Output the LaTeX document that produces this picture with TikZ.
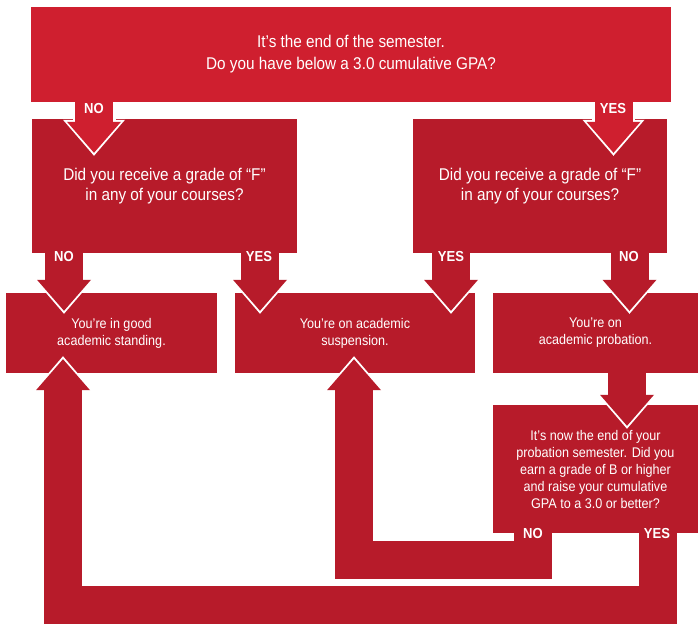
\documentclass[tikz,border=0pt]{standalone}
\usepackage{fontspec}
\setmainfont{Liberation Sans}[FakeStretch=0.9]
\usetikzlibrary{arrows.meta}
\definecolor{topred}{HTML}{CF1F2F}
\definecolor{boxred}{HTML}{B71B2A}

\begin{document}
\begin{tikzpicture}[
        x=1pt, y=-1pt,
        box/.style={fill=boxred, inner sep=0pt, align=center, text=white, font=\fontsize{14}{17}\selectfont},
        question/.style={box, font=\fontsize{17}{20}\selectfont},
        answer/.style={text=white, inner sep=0pt, font=\bfseries\fontsize{14.5}{15}\selectfont},
        fatarrow/.style={draw=#1, line width=38pt,
            -{Triangle[width=54pt, length=31pt, line width=0pt]},
            preaction={draw=white, line width=43pt, shorten >=-3pt,
                -{Triangle[width=62pt, length=36pt, line width=0pt]}}},
        fatarrow/.default=boxred
    ]
    \useasboundingbox (0,0) rectangle (698,624);

    % boxes
    \node[question, fill=topred, minimum width=640pt, minimum height=95pt, font=\fontsize{17}{22}\selectfont]
        (semester) at (351,54.5) {It’s the end of the semester.\\Do you have below a 3.0 cumulative GPA?};
    \node[question, minimum width=265pt, minimum height=134pt]
        (gradeno) at (164.5,186) {Did you receive a grade of “F”\\in any of your courses?};
    \node[question, minimum width=254pt, minimum height=134pt]
        (gradeyes) at (540,186) {Did you receive a grade of “F”\\in any of your courses?};
    \node[box, minimum width=211pt, minimum height=80pt]
        (good) at (111.5,333) {You’re in good\\academic standing.};
    \node[box, minimum width=240pt, minimum height=80pt]
        (suspension) at (355,333) {You’re on academic\\suspension.};
    \node[box, minimum width=205pt, minimum height=80pt]
        (probation) at (595.5,333) {You’re on\\academic probation.};
    \node[box, minimum width=205pt, minimum height=128pt]
        (probend) at (595.5,469) {It’s now the end of your\\probation semester. Did you\\earn a grade of B or higher\\and raise your cumulative\\GPA to a 3.0 or better?};

    % arrow tips
    \coordinate (tipno) at ([xshift=-70.5pt, yshift=-34pt]gradeno.north);
    \coordinate (tipyes) at ([xshift=73.5pt, yshift=-34pt]gradeyes.north);
    \coordinate (tipgood) at ([xshift=-47.5pt, yshift=-18pt]good.north);
    \coordinate (tipsuspa) at ([xshift=-95pt, yshift=-18pt]suspension.north);
    \coordinate (tipsuspb) at ([xshift=96pt, yshift=-18pt]suspension.north);
    \coordinate (tipprob) at ([xshift=34pt, yshift=-18pt]probation.north);
    \coordinate (tipend) at ([xshift=31.5pt, yshift=-21pt]probend.north);
    \coordinate (tipback) at ([xshift=-1pt, yshift=14pt]suspension.south);
    \coordinate (tipgoodback) at ([xshift=-48.5pt, yshift=14pt]good.south);

    % connectors
    \draw[fatarrow=topred] (tipno |- semester.south) -- (tipno);
    \draw[fatarrow=topred] (tipyes |- semester.south) -- (tipyes);
    \draw[fatarrow] (tipgood |- gradeno.south) -- (tipgood);
    \draw[fatarrow] (tipsuspa |- gradeno.south) -- (tipsuspa);
    \draw[fatarrow] (tipsuspb |- gradeyes.south) -- (tipsuspb);
    \draw[fatarrow] (tipprob |- gradeyes.south) -- (tipprob);
    \draw[fatarrow] (tipend |- probation.south) -- (tipend);
    \draw[fatarrow] ([xshift=-62.5pt]probend.south) -- ++(0,27) -| (tipback);
    \draw[fatarrow] ([xshift=62pt]probend.south) -- ++(0,72) -| (tipgoodback);

    % answers
    \node[answer] (lblno) at (94,109) {NO};
    \node[answer] (lblyes) at (613,109) {YES};
    \node[answer] (lblgood) at (64,257) {NO};
    \node[answer] (lblsuspa) at (259,257) {YES};
    \node[answer] (lblsuspb) at (451,257) {YES};
    \node[answer] (lblprob) at (629,257) {NO};
    \node[answer] (lblback) at (533,533) {NO};
    \node[answer] (lblpass) at (657,533) {YES};
\end{tikzpicture}
\end{document}
